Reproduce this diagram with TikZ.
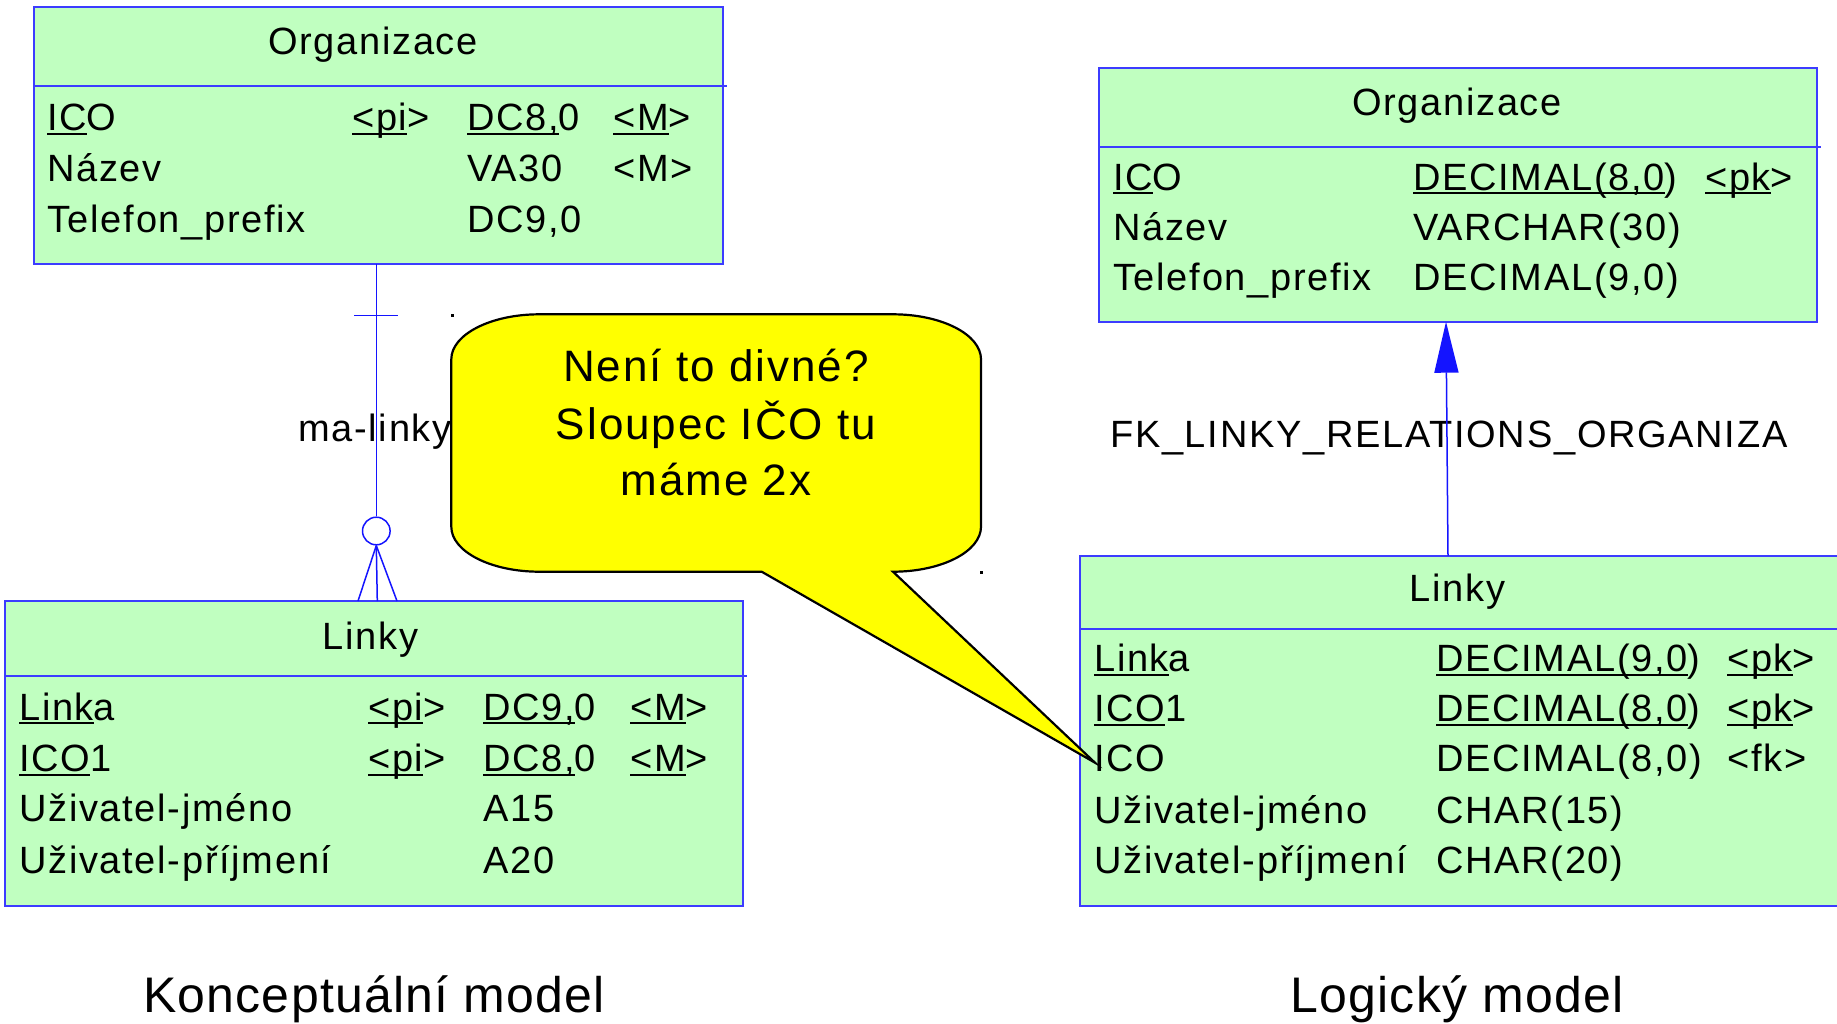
\documentclass[tikz,border=0pt]{standalone}
\usepackage{fontspec}
\setmainfont{Liberation Sans}
\newfontfamily\tabfont[LetterSpace=4.5]{Liberation Sans}
\newfontfamily\capfont[LetterSpace=2.5]{Liberation Sans}
\usetikzlibrary{arrows.meta}
\definecolor{entfill}{RGB}{192,255,192}
\definecolor{entline}{RGB}{60,60,255}
\definecolor{relline}{RGB}{20,20,255}
\definecolor{notefill}{RGB}{255,255,0}
% underline that stops before the last glyph, at a fixed depth
\newcommand\ulpart[1]{{\setbox0\hbox{#1}\rlap{\rule[-3.8pt]{\wd0}{2pt}}\box0}}
\begin{document}
\begin{tikzpicture}[x=1pt,y=-1pt,
  entity/.style={draw=entline, line width=2pt, fill=entfill, inner sep=0pt, outer sep=0pt, anchor=north west},
  hdr/.style={draw=entline, line width=2pt},
  cell/.style={anchor=base west, inner sep=0pt, font=\tabfont\fontsize{38pt}{46pt}\selectfont},
  title/.style={anchor=base, inner sep=0pt, font=\tabfont\fontsize{38pt}{46pt}\selectfont},
  rel/.style={draw=relline, line width=1.5pt},
  note/.style={anchor=base, inner sep=0pt, font=\tabfont\fontsize{44pt}{54pt}\selectfont},
  caption/.style={anchor=base, inner sep=0pt, font=\capfont\fontsize{50pt}{60pt}\selectfont}]
\clip (0,0) rectangle (1837,1023);
\fill[white] (0,0) rectangle (1837,1023);

% ---------- conceptual model ----------
\node[entity, minimum width=689.5pt, minimum height=256.5pt] (orgA) at (33.5,7) {};
\draw[hdr] (33.5,85.7) -- (727,85.7);
\node[title] (orgAt) at (373,54.3) {Organizace};
\node[cell] (orgA11) at (47,130.7) {\ulpart{IC}O};
\node[cell] (orgA12) at (352,130.7) {\ulpart{<pi}>};
\node[cell] (orgA13) at (467,130.7) {\ulpart{DC8,}0};
\node[cell] (orgA14) at (613,130.7) {\ulpart{<M}>};
\node[cell] (orgA21) at (47,181.7) {Název};
\node[cell] (orgA23) at (467,181.7) {VA30};
\node[cell] (orgA24) at (613,181.7) {<M>};
\node[cell] (orgA31) at (47,232.3) {Telefon\_prefix};
\node[cell] (orgA33) at (467,232.3) {DC9,0};

\node[entity, minimum width=737.6pt, minimum height=304.7pt] (linkyA) at (5,601) {};
\draw[hdr] (5,676) -- (746.5,676);
\node[title] (linkyAt) at (370.3,649.3) {Linky};
\node[cell] (linkyA11) at (19,720) {\ulpart{Link}a};
\node[cell] (linkyA12) at (368,720) {\ulpart{<pi}>};
\node[cell] (linkyA13) at (483,720) {\ulpart{DC9,}0};
\node[cell] (linkyA14) at (630,720) {\ulpart{<M}>};
\node[cell] (linkyA21) at (19,771.7) {\ulpart{ICO}1};
\node[cell] (linkyA22) at (368,771.7) {\ulpart{<pi}>};
\node[cell] (linkyA23) at (483,771.7) {\ulpart{DC8,}0};
\node[cell] (linkyA24) at (630,771.7) {\ulpart{<M}>};
\node[cell] (linkyA31) at (19,821.7) {Uživatel-jméno};
\node[cell] (linkyA33) at (483,821.7) {A15};
\node[cell] (linkyA41) at (19,873.3) {Uživatel-příjmení};
\node[cell] (linkyA43) at (483,873.3) {A20};

% relationship ma-linky: one (mandatory) to many (optional)
\node[circle, draw=relline, fill=white, line width=1.5pt, minimum size=27.6pt, inner sep=0pt]
  (optA) at (376.3,531) {};
\draw[rel] ([xshift=342.8pt]orgA.south west) -- (optA.north);
\coordinate (barL) at (354.4,315.7);
\coordinate (barR) at (398,315.7);
\draw[rel] (barL) -- (barR);
\draw[rel] (optA.south) -- ([xshift=353pt]linkyA.north west);
\draw[rel] (optA.south) -- ([xshift=372.3pt]linkyA.north west);
\draw[rel] (optA.south) -- ([xshift=392pt]linkyA.north west);
\node[cell] (relA) at (298,441.7) {ma-linky};

% ---------- logical model ----------
\node[entity, minimum width=718pt, minimum height=253.4pt] (orgB) at (1099,68.3) {};
\draw[hdr] (1099,146.7) -- (1821,146.7);
\node[title] (orgBt) at (1457,115) {Organizace};
\node[cell] (orgB11) at (1113,190) {\ulpart{IC}O};
\node[cell] (orgB12) at (1413,190) {\ulpart{DECIMAL(8,0})};
\node[cell] (orgB13) at (1705,190) {\ulpart{<pk}>};
\node[cell] (orgB21) at (1113,240) {Název};
\node[cell] (orgB22) at (1413,240) {VARCHAR(30)};
\node[cell] (orgB31) at (1113,290) {Telefon\_prefix};
\node[cell] (orgB32) at (1413,290) {DECIMAL(9,0)};

\node[entity, minimum width=764pt, minimum height=350pt] (linkyB) at (1080,555.7) {};
\draw[hdr] (1080,629.3) -- (1844,629.3);
\node[title] (linkyBt) at (1457.7,601.7) {Linky};
\node[cell] (linkyB11) at (1094,671.7) {\ulpart{Link}a};
\node[cell] (linkyB12) at (1436,671.7) {\ulpart{DECIMAL(9,0})};
\node[cell] (linkyB13) at (1727,671.7) {\ulpart{<pk}>};
\node[cell] (linkyB21) at (1094,721.7) {\ulpart{ICO}1};
\node[cell] (linkyB22) at (1436,721.7) {\ulpart{DECIMAL(8,0})};
\node[cell] (linkyB23) at (1727,721.7) {\ulpart{<pk}>};
\node[cell] (linkyB31) at (1094,771.7) {ICO};
\node[cell] (linkyB32) at (1436,771.7) {DECIMAL(8,0)};
\node[cell] (linkyB33) at (1727,771.7) {<fk>};
\node[cell] (linkyB41) at (1094,823.3) {Uživatel-jméno};
\node[cell] (linkyB42) at (1436,823.3) {CHAR(15)};
\node[cell] (linkyB51) at (1094,873.3) {Uživatel-příjmení};
\node[cell] (linkyB52) at (1436,873.3) {CHAR(20)};

% foreign key reference
\node[cell] (fkB) at (1110,447.7) {FK\_LINKY\_RELATIONS\_ORGANIZA};
\draw[rel, -{Triangle[length=51pt,width=24pt]}]
  ([xshift=368pt]linkyB.north west) -- ([xshift=347pt]orgB.south west);

% ---------- callout ----------
\coordinate (tipN) at (1095,762.7);
\draw[fill=notefill, draw=black, line width=2.2pt, line join=miter]
  (539.3,314.3) -- (893,314.3)
  .. controls (941.6,314.3) and (981,334.5) .. (981,359.3)
  -- (981,526.7)
  .. controls (981,551.5) and (941.6,571.7) .. (893,571.7)
  -- (tipN) -- (761.7,571.7) -- (539.3,571.7)
  .. controls (490.7,571.7) and (451.3,551.5) .. (451.3,526.7)
  -- (451.3,359.3)
  .. controls (451.3,334.5) and (490.7,314.3) .. (539.3,314.3) -- cycle;
\node[note] (noteL1) at (716,381.7) {Není to divné?};
\node[note] (noteL2) at (716,439.3) {Sloupec IČO tu};
\node[note] (noteL3) at (716,495.7) {máme 2x};
\fill[black] (451,314) rectangle ++(2.5,2.5);
\fill[black] (980,571) rectangle ++(2.5,2.5);

% ---------- captions ----------
\node[caption] (capA) at (374,1012.7) {Konceptuální model};
\node[caption] (capB) at (1457,1012.7) {Logický model};
\end{tikzpicture}
\end{document}
